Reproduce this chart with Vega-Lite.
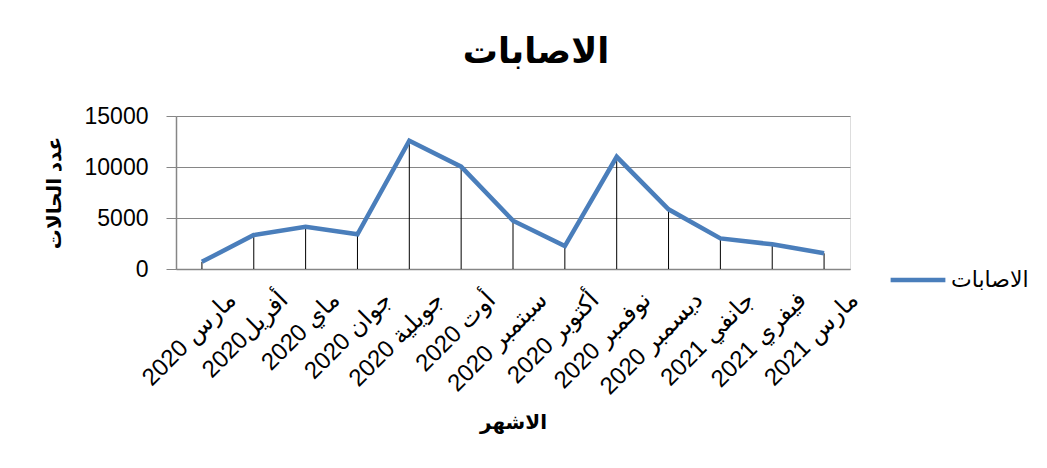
{
  "$schema": "https://vega.github.io/schema/vega-lite/v6.json",
  "autosize": {"type": "none"},
  "width": 674,
  "height": 153,
  "padding": {"left": 176, "top": 116, "right": 197, "bottom": 199},
  "background": "white",
  "title": {
    "text": "الاصابات",
    "fontSize": 35,
    "fontWeight": "bold",
    "font": "Liberation Sans, DejaVu Sans",
    "color": "black",
    "anchor": "middle",
    "dx": 23,
    "offset": 35
  },
  "data": {
    "values": [
      {"month": "مارس 2020", "cases": 700, "series": "الاصابات"},
      {"month": "أفريل2020", "cases": 3330, "series": "الاصابات"},
      {"month": "ماي 2020", "cases": 4150, "series": "الاصابات"},
      {"month": "جوان 2020", "cases": 3400, "series": "الاصابات"},
      {"month": "جويلية 2020", "cases": 12580, "series": "الاصابات"},
      {"month": "أوت 2020", "cases": 10030, "series": "الاصابات"},
      {"month": "سبتمبر 2020", "cases": 4740, "series": "الاصابات"},
      {"month": "أكتوبر 2020", "cases": 2250, "series": "الاصابات"},
      {"month": "نوفمبر 2020", "cases": 11000, "series": "الاصابات"},
      {"month": "ديسمبر 2020", "cases": 5850, "series": "الاصابات"},
      {"month": "جانفي 2021", "cases": 3000, "series": "الاصابات"},
      {"month": "فيفري 2021", "cases": 2420, "series": "الاصابات"},
      {"month": "مارس 2021", "cases": 1540, "series": "الاصابات"}
    ]
  },
  "encoding": {
    "x": {
      "field": "month",
      "type": "ordinal",
      "sort": null,
      "scale": {"type": "point", "padding": 0.5},
      "axis": {
        "title": "الاشهر",
        "titleFontSize": 20,
        "titleFontWeight": "bold",
        "titleFont": "Liberation Sans, DejaVu Sans",
        "titleColor": "black",
        "titlePadding": 14,
        "labelAngle": -45,
        "labelAlign": "right",
        "labelBaseline": "middle",
        "labelFontSize": 24,
        "labelFont": "Liberation Sans, DejaVu Sans",
        "labelColor": "black",
        "labelOffset": 30,
        "labelPadding": 27,
        "ticks": false,
        "grid": false,
        "domainColor": "#868686",
        "domainWidth": 1.5
      }
    },
    "y": {
      "field": "cases",
      "type": "quantitative",
      "scale": {"domain": [0, 15000], "nice": false},
      "axis": {
        "title": "عدد الحالات",
        "titleFontSize": 20,
        "titleFontWeight": "bold",
        "titleFont": "Liberation Sans, DejaVu Sans",
        "titleColor": "black",
        "titlePadding": 20,
        "values": [0, 5000, 10000, 15000],
        "format": "d",
        "labelFontSize": 23,
        "labelFont": "Liberation Sans, DejaVu Sans",
        "labelColor": "black",
        "labelPadding": 18,
        "tickSize": 10,
        "tickColor": "#868686",
        "domainColor": "#868686",
        "domainWidth": 1.5,
        "gridColor": "#868686",
        "gridWidth": 1
      }
    }
  },
  "layer": [
    {
      "mark": {"type": "rule", "color": "black", "strokeWidth": 1},
      "encoding": {
        "y": {"datum": 0},
        "y2": {"field": "cases"}
      }
    },
    {
      "mark": {"type": "line", "strokeWidth": 4.5, "strokeJoin": "miter"},
      "encoding": {
        "color": {
          "field": "series",
          "type": "nominal",
          "scale": {"range": ["#4a7ebb"]},
          "legend": {
            "title": null,
            "orient": "none",
            "legendX": 712,
            "legendY": 134,
            "symbolType": "stroke",
            "symbolSize": 3000,
            "symbolStrokeWidth": 4.5,
            "labelFontSize": 22,
            "labelFont": "Liberation Sans, DejaVu Sans",
            "labelColor": "black",
            "labelOffset": 3
          }
        }
      }
    }
  ]
}
